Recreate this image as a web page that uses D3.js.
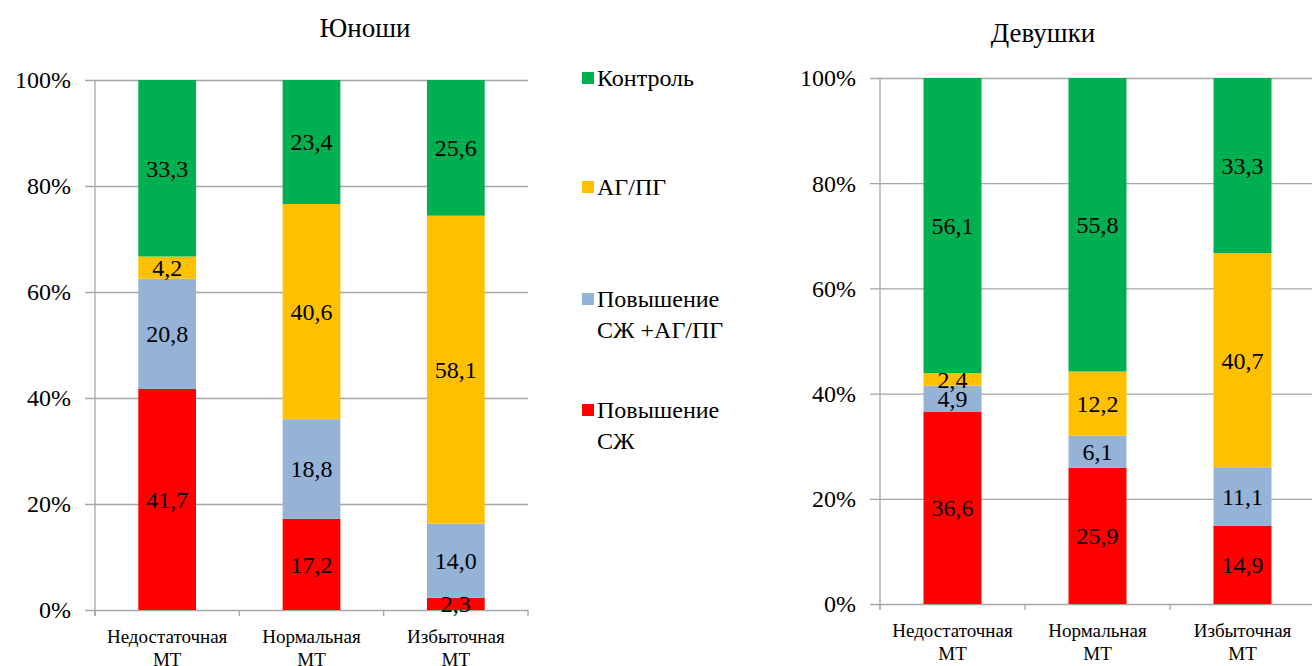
<!DOCTYPE html>
<html>
<head>
<meta charset="utf-8">
<script src="https://cdnjs.cloudflare.com/ajax/libs/d3/7.8.5/d3.min.js"></script>
</head>
<body style="margin:0">
<svg id="chart" width="1312" height="666"></svg>
<script>
// categories and series
const categories = ["Недостаточная МТ", "Нормальная МТ", "Избыточная МТ"];
const seriesNames = ["Повышение СЖ", "Повышение СЖ +АГ/ПГ", "АГ/ПГ", "Контроль"];
const seriesColors = ["#ff0000", "#95b3d7", "#ffc000", "#00b050"];
const yTicks = [0, 20, 40, 60, 80, 100];

// values per category, order: СЖ, СЖ+АГ/ПГ, АГ/ПГ, Контроль
const boysValues = [
  [41.7, 20.8, 4.2, 33.3],
  [17.2, 18.8, 40.6, 23.4],
  [2.3, 14.0, 58.1, 25.6]
];
const girlsValues = [
  [36.6, 4.9, 2.4, 56.1],
  [25.9, 6.1, 12.2, 55.8],
  [14.9, 11.1, 40.7, 33.3]
];

const GRID = "#a6a6a6";
const svg = d3.select("#chart");
const fmt = (v) => v.toFixed(1).replace(".", ",");
const font = (size) => `font: ${size}px 'Liberation Serif', serif`;

function drawPanel(opts) {
  const { title, values, left, right, top, bottom, titleX, titleY } = opts;
  const g = svg.append("g");

  const x = d3.scaleBand().domain(categories).range([left, right]);
  const y = d3.scaleLinear().domain([0, 100]).range([bottom, top]);

  // gridlines
  const grid = g.append("g")
    .attr("transform", `translate(${right},0)`)
    .call(d3.axisLeft(y).tickValues(yTicks).tickSize(right - left + 10).tickFormat(""));
  grid.select(".domain").remove();
  grid.selectAll("line").attr("stroke", GRID).attr("stroke-width", 1.3);

  // y tick labels
  g.selectAll(".ylab")
    .data(yTicks)
    .join("text")
    .attr("style", font(24))
    .attr("x", left - 24)
    .attr("y", (d) => y(d))
    .attr("dy", "0.35em")
    .attr("text-anchor", "end")
    .text((d) => d + "%");

  // stacked bars
  const rows = values.map((vals, i) => {
    const r = { cat: categories[i] };
    seriesNames.forEach((s, j) => (r[s] = vals[j]));
    return r;
  });
  const stacked = d3.stack().keys(seriesNames)(rows);
  const barW = x.bandwidth() * 0.4;

  stacked.forEach((layer, j) => {
    g.selectAll(".seg" + j)
      .data(layer)
      .join("rect")
      .attr("x", (d) => x(d.data.cat) + (x.bandwidth() - barW) / 2)
      .attr("width", barW)
      .attr("y", (d) => y(d[1]))
      .attr("height", (d) => y(d[0]) - y(d[1]))
      .attr("fill", seriesColors[j]);
  });

  stacked.forEach((layer, j) => {
    g.selectAll(".lab" + j)
      .data(layer)
      .join("text")
      .attr("style", font(24))
      .attr("x", (d) => x(d.data.cat) + x.bandwidth() / 2)
      .attr("y", (d) => (y(d[0]) + y(d[1])) / 2)
      .attr("dy", "0.35em")
      .attr("text-anchor", "middle")
      .attr("fill", "#000")
      .text((d) => fmt(d[1] - d[0]));
  });

  // y axis line and category ticks
  g.append("line")
    .attr("x1", left).attr("x2", left)
    .attr("y1", top).attr("y2", bottom + 6)
    .attr("stroke", GRID).attr("stroke-width", 1.3);
  const bounds = categories.map((c) => x(c)).concat([right]);
  g.selectAll(".xtick")
    .data(bounds)
    .join("line")
    .attr("x1", (d) => d).attr("x2", (d) => d)
    .attr("y1", bottom).attr("y2", bottom + 6)
    .attr("stroke", GRID).attr("stroke-width", 1.3);

  // category labels
  const cl = g.selectAll(".xlab")
    .data(categories)
    .join("text")
    .attr("style", font(19))
    .attr("x", (d) => x(d) + x.bandwidth() / 2)
    .attr("y", bottom + 33)
    .attr("text-anchor", "middle");
  cl.append("tspan").text((d) => d.split(" ")[0]);
  cl.append("tspan")
    .attr("x", (d) => x(d) + x.bandwidth() / 2)
    .attr("dy", 23)
    .text((d) => d.split(" ")[1]);

  // title
  g.append("text")
    .attr("style", font(27))
    .attr("x", titleX)
    .attr("y", titleY)
    .attr("text-anchor", "middle")
    .text(title);
}

drawPanel({ title: "Юноши", values: boysValues, left: 95, right: 528, top: 80, bottom: 610, titleX: 365, titleY: 37 });
drawPanel({ title: "Девушки", values: girlsValues, left: 880, right: 1315, top: 78, bottom: 604, titleX: 1043, titleY: 42 });

// legend
const legendY = [78, 187, 299, 410];
const legend = svg.append("g");
const legendOrder = [3, 2, 1, 0];
legendOrder.forEach((si, k) => {
  const name = seriesNames[si];
  legend.append("rect")
    .attr("x", 582).attr("y", legendY[k] - 6)
    .attr("width", 12).attr("height", 12)
    .attr("fill", seriesColors[si]);
  const lines = name === "Повышение СЖ +АГ/ПГ" ? ["Повышение", "СЖ +АГ/ПГ"]
    : name === "Повышение СЖ" ? ["Повышение", "СЖ"] : [name];
  const t = legend.append("text")
    .attr("style", font(24))
    .attr("x", 597).attr("y", legendY[k]);
  lines.forEach((ln, i) => {
    t.append("tspan").attr("x", 597).attr("dy", i === 0 ? "0.35em" : 31).text(ln);
  });
});
</script>
</body>
</html>
